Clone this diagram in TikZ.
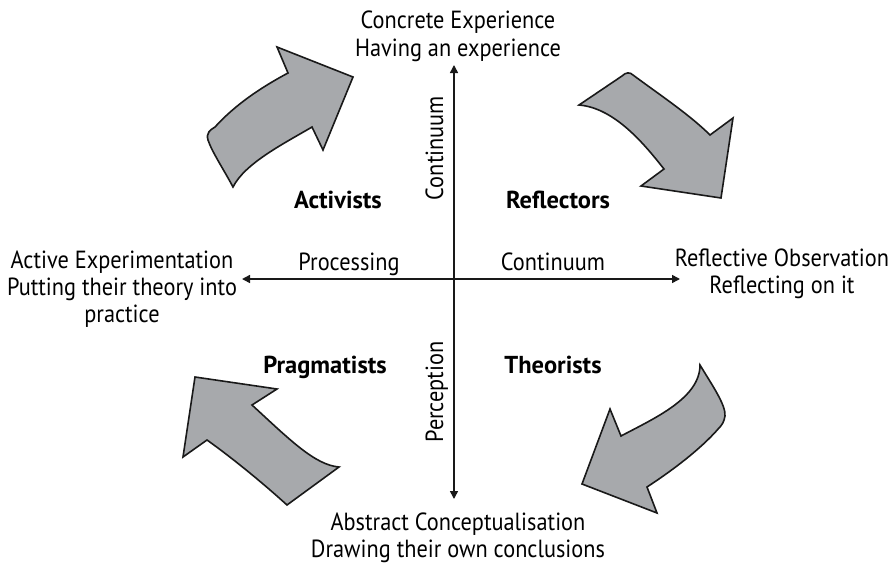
\documentclass[tikz,border=0pt]{standalone}
\usepackage{fontspec}
\setmainfont{PT Sans}[FakeStretch=0.9]
\newfontfamily\boldlblfont{PT Sans}[FakeStretch=1.0]
\usetikzlibrary{arrows.meta}
\definecolor{arrowgray}{RGB}{167,169,172}
\tikzset{
  lbl/.style={anchor=base, inner sep=0pt, font=\fontsize{24.8}{28}\selectfont},
  bold/.style={anchor=base, inner sep=0pt, font=\boldlblfont\fontsize{24.5}{28}\selectfont\bfseries},
  blockarrow/.style={fill=arrowgray, draw=black!90, line width=1.6pt, line join=miter},
  axis/.style={line width=1.5pt, draw=black!90}
}
\begin{document}
\begin{tikzpicture}[x=1pt,y=-1pt]
\useasboundingbox (0,0) rectangle (895,568);

% axes
\coordinate (axtop) at (454,65);
\coordinate (axbot) at (454,499);
\coordinate (axleft) at (242,279);
\coordinate (axright) at (680,279);
\draw[axis,{Triangle[width=8pt,length=8pt]}-{Triangle[width=8pt,length=8pt]}] (axtop) -- (axbot);
\draw[axis,{Triangle[width=8pt,length=8pt]}-{Triangle[width=8pt,length=8pt]}] (axleft) -- (axright);

% pole labels
\node[lbl] (ce1) at (458,28) {Concrete Experience};
\node[lbl] (ce2) at (458,56) {Having an experience};
\node[lbl] (ae1) at (122,268) {Active Experimentation};
\node[lbl] (ae2) at (122,295) {Putting their theory into};
\node[lbl] (ae3) at (122,322) {practice};
\node[lbl] (ro1) at (782,266) {Reflective Observation};
\node[lbl] (ro2) at (782,293) {Reflecting on it};
\node[lbl] (ac1) at (458,530) {Abstract Conceptualisation};
\node[lbl] (ac2) at (458,557) {Drawing their own conclusions};

% axis labels
\node[lbl] (proc) at (349,270) {Processing};
\node[lbl] (hcont) at (553,270) {Continuum};
\node[lbl, rotate=90] (vcont) at (443,148) {Continuum};
\node[lbl, rotate=90] (perc) at (443,392) {Perception};

% quadrant labels
\node[bold] (act) at (338,208) {Activists};
\node[bold] (refl) at (558,208) {Reflectors};
\node[bold] (prag) at (325,373) {Pragmatists};
\node[bold] (theo) at (553,373) {Theorists};

% block arrows
% Activists (up-right)
\draw[blockarrow] (233,187) .. controls (224,170) and (212,152) .. (208,140)
  .. controls (206,133) and (210,130) .. (215,127)
  .. controls (235,105) and (260,88) .. (288,73)
  -- (277,47) -- (353,77) -- (323,150) -- (312,127)
  .. controls (285,143) and (245,163) .. cycle;
% Reflectors (down-right)
\draw[blockarrow] (579,105) -- (622,76)
  .. controls (626,72) and (630,72) .. (633,75)
  .. controls (660,95) and (690,115) .. (710,135)
  -- (733,118) -- (721,198) -- (641,186) -- (664,169)
  .. controls (645,145) and (615,108) .. cycle;
% Theorists (down-left)
\draw[blockarrow] (700,365) .. controls (712,385) and (726,405) .. (725,416)
  .. controls (724,422) and (722,425) .. (719,428)
  .. controls (700,450) and (670,472) .. (647,487)
  -- (657,513) -- (582,484) -- (610,409) -- (621,436)
  .. controls (655,418) and (700,398) .. cycle;
% Pragmatists (up-left)
\draw[blockarrow] (195,377) -- (277,389) -- (252,405)
  .. controls (290,440) and (315,465) .. (339,467)
  -- (287,505)
  .. controls (265,485) and (235,460) .. (207,440)
  -- (183,457) -- cycle;
\end{tikzpicture}
\end{document}
